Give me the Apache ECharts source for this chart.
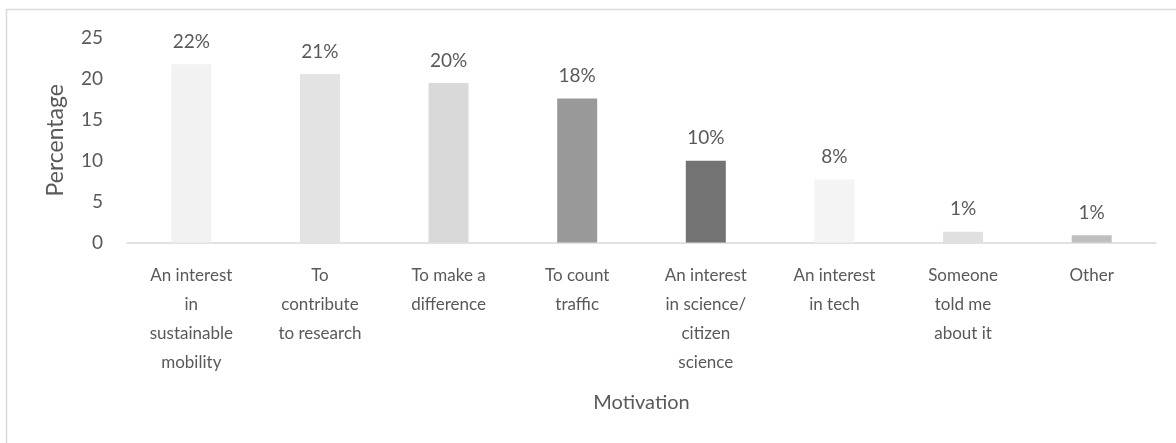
<!DOCTYPE html>
<html>
<head>
<meta charset="utf-8">
<script src="https://cdn.jsdelivr.net/npm/echarts@6/dist/echarts.min.js"></script>
<style>
  html, body { margin: 0; padding: 0; background: #fff; }
  #chart { width: 1176px; height: 443px; }
</style>
</head>
<body>
<div id="chart"></div>
<script>
// motivations (x axis), wrapped the way the original shows them
var categories = [
  "An interest\nin\nsustainable\nmobility",
  "To\ncontribute\nto research",
  "To make a\ndifference",
  "To count\ntraffic",
  "An interest\nin science/\ncitizen\nscience",
  "An interest\nin tech",
  "Someone\ntold me\nabout it",
  "Other"
];
var percentages = [21.8, 20.6, 19.5, 17.6, 10.0, 7.7, 1.3, 0.9];
var barColors = ["#f2f2f2", "#e3e3e3", "#d9d9d9", "#999999", "#737373", "#f4f4f4", "#e0e0e0", "#bfbfbf"];
var yTicks = [0, 5, 10, 15, 20, 25];

var chart = echarts.init(document.getElementById("chart"));
var font = "Lato, 'Open Sans', sans-serif";

var option = {
  animation: false,
  textStyle: { fontFamily: font },
  graphic: [{
    // light frame around the chart
    type: "rect",
    shape: { x: 6.5, y: 9.5, width: 1200, height: 500 },
    style: { fill: "none", stroke: "#d9d9d9", lineWidth: 1.5 },
    z: -1
  }],
  grid: { left: 127, right: 20, top: 38, bottom: 200.5 },
  xAxis: {
    type: "category",
    data: categories,
    name: "Motivation",
    nameLocation: "middle",
    nameGap: 150,
    nameTextStyle: { color: "#595959", fontSize: 20, fontFamily: font },
    axisLine: { lineStyle: { color: "#d9d9d9", width: 1.5 } },
    axisTick: { show: false },
    axisLabel: {
      interval: 0,
      color: "#595959",
      fontSize: 17,
      lineHeight: 29,
      margin: 19,
      fontFamily: font
    }
  },
  yAxis: {
    type: "value",
    min: yTicks[0],
    max: yTicks[yTicks.length - 1],
    interval: 5,
    name: "Percentage",
    nameLocation: "middle",
    nameGap: 60,
    nameTextStyle: { color: "#595959", fontSize: 23, fontFamily: font },
    axisLine: { show: false },
    axisTick: { show: false },
    splitLine: { show: false },
    axisLabel: { color: "#595959", fontSize: 19, margin: 24, fontFamily: font }
  },
  series: [{
    type: "bar",
    barWidth: 40,
    data: percentages.map(function (v, i) {
      return { value: v, itemStyle: { color: barColors[i] } };
    }),
    label: {
      show: true,
      position: "top",
      distance: 13,
      color: "#595959",
      fontSize: 19,
      fontFamily: font,
      formatter: function (p) { return Math.round(p.value) + "%"; }
    }
  }]
};

chart.setOption(option);
</script>
</body>
</html>
